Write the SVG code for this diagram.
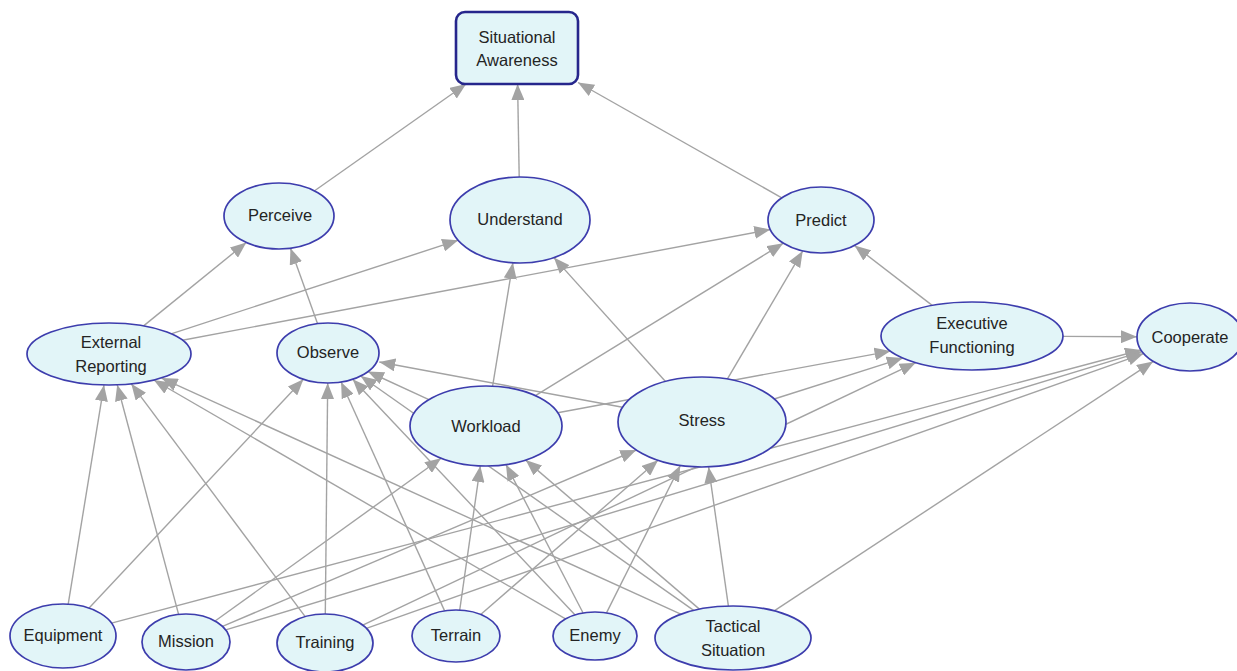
<svg xmlns="http://www.w3.org/2000/svg" width="1237" height="671" viewBox="0 0 1237 671">
<style>
.e{stroke:#a3a3a3;stroke-width:1.4;fill:none;marker-end:url(#arr)}
.n{fill:#e2f5f8;stroke:#3d3dad;stroke-width:1.7}
.sa{fill:#e2f5f8;stroke:#26268c;stroke-width:2.6}
text{font-family:"Liberation Sans",Arial,sans-serif;font-size:16.5px;fill:#242424;text-anchor:middle;dominant-baseline:central}
</style>
<defs>
<marker id="arr" markerUnits="userSpaceOnUse" markerWidth="17" markerHeight="13" refX="16" refY="6.5" orient="auto">
<path d="M0,0 L16,6.5 L0,13 z" fill="#a3a3a3"/>
</marker>
</defs>
<rect width="1237" height="671" fill="#ffffff"/>
<g id="connectors">
<line class="e" x1="314.6" y1="190.8" x2="466.1" y2="84"/>
<line class="e" x1="519.2" y1="177" x2="517.6" y2="84"/>
<line class="e" x1="781.8" y1="197.8" x2="578" y2="82.5"/>
<line class="e" x1="143.6" y1="325.9" x2="246.3" y2="242.5"/>
<line class="e" x1="171.1" y1="333.8" x2="458.2" y2="240.2"/>
<line class="e" x1="182.4" y1="340.2" x2="770.3" y2="229.5"/>
<line class="e" x1="317.5" y1="323.6" x2="290.5" y2="248.3"/>
<line class="e" x1="492.6" y1="386.1" x2="512.9" y2="262.8"/>
<line class="e" x1="535.4" y1="395.6" x2="783.3" y2="243.2"/>
<line class="e" x1="665.5" y1="381.5" x2="553.9" y2="257.6"/>
<line class="e" x1="727.3" y1="379.1" x2="802.7" y2="251"/>
<line class="e" x1="932.2" y1="305.4" x2="854.6" y2="245.6"/>
<line class="e" x1="1063" y1="336.4" x2="1137" y2="336.8"/>
<line class="e" x1="622.6" y1="407.3" x2="379.3" y2="362"/>
<line class="e" x1="428.9" y1="399.6" x2="367.9" y2="371.5"/>
<line class="e" x1="557.7" y1="412.7" x2="890.5" y2="351.1"/>
<line class="e" x1="774.2" y1="399" x2="902.8" y2="358.1"/>
<line class="e" x1="362.8" y1="625.1" x2="915.7" y2="362.7"/>
<line class="e" x1="111.5" y1="623.1" x2="1141" y2="350"/>
<line class="e" x1="225.7" y1="629.9" x2="1142.1" y2="351.6"/>
<line class="e" x1="366.4" y1="628.3" x2="1143.6" y2="353.6"/>
<line class="e" x1="774.2" y1="610.8" x2="1153" y2="361.6"/>
<line class="e" x1="68.2" y1="604.2" x2="104" y2="385.1"/>
<line class="e" x1="178.6" y1="614.4" x2="117.2" y2="384.8"/>
<line class="e" x1="305.2" y1="616.6" x2="131.3" y2="383.8"/>
<line class="e" x1="565.5" y1="618.9" x2="153.8" y2="380"/>
<line class="e" x1="680.8" y1="614.2" x2="161.6" y2="378.1"/>
<line class="e" x1="89.1" y1="608.1" x2="303.4" y2="379.3"/>
<line class="e" x1="325.3" y1="614" x2="327.7" y2="383"/>
<line class="e" x1="444.6" y1="610.9" x2="341.1" y2="382"/>
<line class="e" x1="575.1" y1="614.9" x2="352.7" y2="379.2"/>
<line class="e" x1="693.7" y1="610.4" x2="360.7" y2="376"/>
<line class="e" x1="215.1" y1="621" x2="441.1" y2="458.3"/>
<line class="e" x1="459.7" y1="610.1" x2="480.3" y2="466.1"/>
<line class="e" x1="583.1" y1="613" x2="506" y2="464.6"/>
<line class="e" x1="699.4" y1="609.1" x2="525.7" y2="460.1"/>
<line class="e" x1="222.5" y1="626.4" x2="636.3" y2="450"/>
<line class="e" x1="480.7" y1="614.5" x2="658" y2="460.3"/>
<line class="e" x1="606.5" y1="612.9" x2="680.3" y2="465.5"/>
<line class="e" x1="728.4" y1="606.1" x2="708.6" y2="467.1"/>
</g>
<g id="situational-awareness">
<rect class="sa" x="456" y="12" width="122" height="72" rx="9"/>
<text x="517" y="37">Situational</text>
<text x="517" y="60">Awareness</text>
</g>
<g id="perceive">
<ellipse class="n" cx="279" cy="216" rx="55" ry="33"/>
<text x="280" y="215">Perceive</text>
</g>
<g id="understand">
<ellipse class="n" cx="520" cy="220" rx="70" ry="43"/>
<text x="520" y="219">Understand</text>
</g>
<g id="predict">
<ellipse class="n" cx="821" cy="220" rx="53" ry="33"/>
<text x="821" y="220">Predict</text>
</g>
<g id="external-reporting">
<ellipse class="n" cx="109" cy="354" rx="82" ry="31"/>
<text x="111" y="342">External</text>
<text x="111" y="366">Reporting</text>
</g>
<g id="observe">
<ellipse class="n" cx="328" cy="353" rx="51" ry="30"/>
<text x="328" y="352">Observe</text>
</g>
<g id="workload">
<ellipse class="n" cx="486" cy="426" rx="76" ry="40"/>
<text x="486" y="426">Workload</text>
</g>
<g id="stress">
<ellipse class="n" cx="702" cy="422" rx="84" ry="45"/>
<text x="702" y="420">Stress</text>
</g>
<g id="executive-functioning">
<ellipse class="n" cx="972" cy="336" rx="91" ry="34"/>
<text x="972" y="323">Executive</text>
<text x="972" y="347">Functioning</text>
</g>
<g id="cooperate">
<ellipse class="n" cx="1190" cy="337" rx="53" ry="34"/>
<text x="1190" y="337">Cooperate</text>
</g>
<g id="equipment">
<ellipse class="n" cx="63" cy="636" rx="53" ry="32"/>
<text x="63" y="635">Equipment</text>
</g>
<g id="mission">
<ellipse class="n" cx="186" cy="642" rx="44" ry="28"/>
<text x="186" y="641">Mission</text>
</g>
<g id="training">
<ellipse class="n" cx="325" cy="643" rx="48" ry="29"/>
<text x="325" y="642">Training</text>
</g>
<g id="terrain">
<ellipse class="n" cx="456" cy="636" rx="44" ry="26"/>
<text x="456" y="635">Terrain</text>
</g>
<g id="enemy">
<ellipse class="n" cx="595" cy="636" rx="42" ry="24"/>
<text x="595" y="635">Enemy</text>
</g>
<g id="tactical-situation">
<ellipse class="n" cx="733" cy="638" rx="78" ry="32"/>
<text x="733" y="626">Tactical</text>
<text x="733" y="650">Situation</text>
</g>
</svg>
